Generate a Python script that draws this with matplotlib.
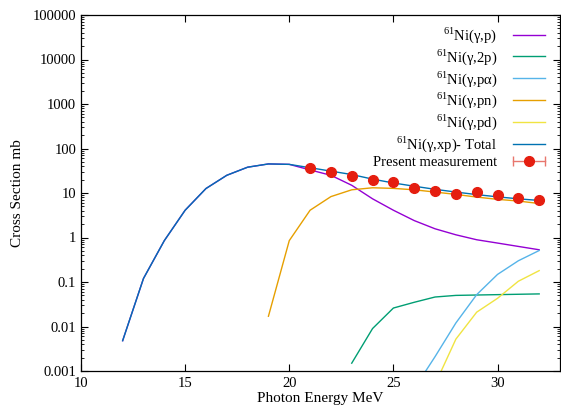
import matplotlib
matplotlib.use("Agg")
import matplotlib.pyplot as plt
from matplotlib.lines import Line2D
from matplotlib.legend_handler import HandlerTuple, HandlerLine2D
from matplotlib.ticker import LogLocator, FixedLocator, NullFormatter

plt.rcParams['font.family'] = ['Liberation Serif', 'DejaVu Serif']
plt.rcParams['mathtext.fontset'] = 'custom'
plt.rcParams['mathtext.rm'] = 'Liberation Serif'

# Energies (MeV)
E_full = [12, 13, 14, 15, 16, 17, 18, 19, 20, 21, 22, 23, 24, 25, 26, 27, 28, 29, 30, 31, 32]
# 61Ni(g,p)
sig_p = [0.0048, 0.12, 0.85, 4.1, 12.6, 25, 38, 45, 44, 33, 25, 14.9, 7.4, 4.1, 2.4, 1.57, 1.15, 0.89, 0.75, 0.63, 0.53]
# 61Ni(g,2p)
E_2p = [23, 24, 25, 26, 27, 28, 29, 30, 31, 32]
sig_2p = [0.0015, 0.009, 0.026, 0.035, 0.046, 0.050, 0.051, 0.052, 0.053, 0.054]
# 61Ni(g,p alpha)
E_pa = [26, 27, 28, 29, 30, 31, 32]
sig_pa = [0.0004, 0.0021, 0.012, 0.052, 0.148, 0.30, 0.51]
# 61Ni(g,pn)
E_pn = [19, 20, 21, 22, 23, 24, 25, 26, 27, 28, 29, 30, 31, 32]
sig_pn = [0.017, 0.85, 4.1, 8.3, 11.8, 13.1, 12.7, 11.8, 10.5, 9.3, 8.1, 7.2, 6.6, 5.8]
# 61Ni(g,pd)
E_pd = [27, 28, 29, 30, 31, 32]
sig_pd = [0.0005, 0.0052, 0.021, 0.043, 0.104, 0.18]
# 61Ni(g,xp) total
sig_tot = [0.0048, 0.12, 0.85, 4.1, 12.6, 25, 38, 45, 44, 37, 31, 26, 20.5, 16.8, 14.2, 12.1, 10.5, 9.2, 8.2, 7.4, 6.8]
# Present measurement
E_meas = [21, 22, 23, 24, 25, 26, 27, 28, 29, 30, 31, 32]
sig_meas = [36, 29, 24.6, 20, 17.3, 12.7, 11.3, 9.6, 10.5, 8.9, 7.9, 7.0]

fig = plt.figure(figsize=(5.61, 4.09), dpi=100)
ax = fig.add_axes([81/561, 1-371/409, (560-81)/561, (371-15)/409])

lw = 1.0
ax.plot(E_full, sig_p, color='#9400d3', lw=lw, label=r'$^{61}$Ni(γ,p)')
ax.plot(E_2p, sig_2p, color='#009e73', lw=lw, label=r'$^{61}$Ni(γ,2p)')
ax.plot(E_pa, sig_pa, color='#56b4e9', lw=lw, label=r'$^{61}$Ni(γ,pα)')
ax.plot(E_pn, sig_pn, color='#e69f00', lw=lw, label=r'$^{61}$Ni(γ,pn)')
ax.plot(E_pd, sig_pd, color='#f0e442', lw=lw, label=r'$^{61}$Ni(γ,pd)')
ax.plot(E_full, sig_tot, color='#0072b2', lw=lw, label=r'$^{61}$Ni(γ,xp)- Total')
ax.plot(E_meas, sig_meas, linestyle='none', marker='o', color='#e51e10',
        markersize=7, zorder=5)

ax.set_yscale('log')
ax.set_xlim(10, 33)
ax.set_ylim(0.001, 100000)
ax.yaxis.set_major_locator(FixedLocator([1e-3, 1e-2, 1e-1, 1, 10, 100, 1e3, 1e4, 1e5]))
ax.set_yticklabels(['0.001', '0.01', '0.1', '1', '10', '100', '1000', '10000', '100000'])
ax.yaxis.set_minor_locator(LogLocator(base=10, subs=range(2, 10), numticks=20))
ax.yaxis.set_minor_formatter(NullFormatter())
ax.xaxis.set_major_locator(FixedLocator([10, 15, 20, 25, 30]))
ax.tick_params(which='both', direction='in', top=True, right=True, labelsize=10.5)
ax.tick_params(which='major', length=5, width=0.8)
ax.tick_params(which='minor', length=2.5, width=0.6)
ax.tick_params(axis='x', pad=4)
for s in ax.spines.values():
    s.set_linewidth(0.9)

ax.set_xlabel('Photon Energy MeV', fontsize=11, labelpad=2)
ax.set_ylabel('Cross Section mb', fontsize=11, labelpad=6)

handles, labels = ax.get_legend_handles_labels()
eb_line = Line2D([], [], color='#e8766d', lw=1.0, marker='|', markersize=7, markeredgewidth=1.0)
eb_dot = Line2D([], [], color='#e51e10', linestyle='none', marker='o', markersize=7)
handles.append((eb_line, eb_dot))
labels.append('Present measurement')
ax.legend(handles, labels, loc='upper right', frameon=False, markerfirst=False,
          fontsize=10.5, numpoints=2, handlelength=2.8, handletextpad=0.8,
          labelspacing=0.15, borderaxespad=0.4, borderpad=0.3,
          handler_map={tuple: HandlerTuple(ndivide=1),
                       eb_dot: HandlerLine2D(numpoints=1)})

fig.savefig('out.png', dpi=100)
